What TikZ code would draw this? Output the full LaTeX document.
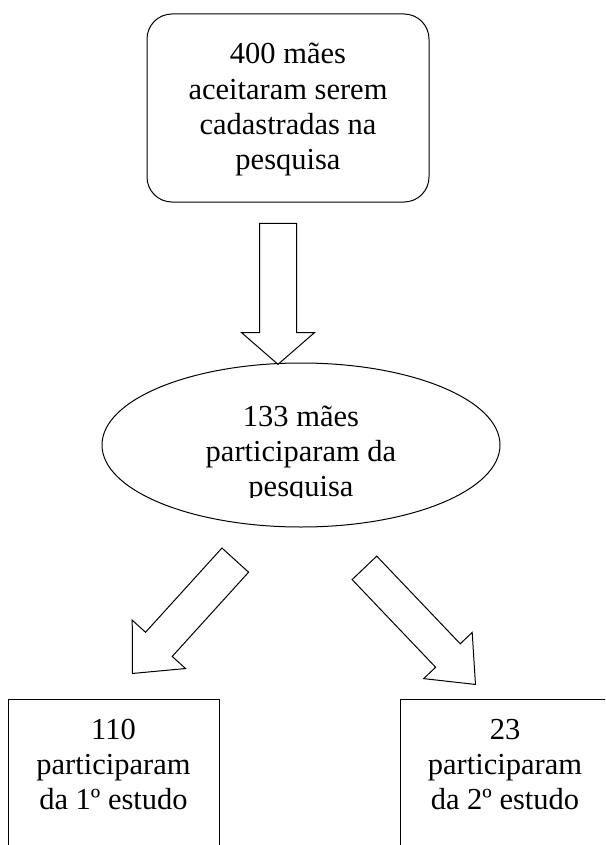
\documentclass[tikz,border=0pt]{standalone}
\usepackage{fontspec}
\setmainfont{Liberation Serif}
\usetikzlibrary{shapes.geometric,shapes.arrows,positioning}
\tikzset{
  caixa/.style = {draw=black, line width=1pt, rounded corners=25pt,
    minimum width=282pt, minimum height=188pt, inner sep=0pt},% caixa arredondada
  elipse/.style = {draw=black, line width=1pt, ellipse,
    minimum width=398pt, minimum height=164pt, inner sep=0pt},
  estudo/.style = {draw=black, line width=1pt, rectangle,
    minimum width=211pt, minimum height=200pt, inner sep=0pt},% caixa de baixo, aberta
  texto/.style = {align=center, inner sep=0pt,
    font=\fontsize{30.5}{35}\selectfont},
  seta/.style = {single arrow, draw=black, line width=1pt, fill=white,
    inner sep=0pt, inner ysep=18pt, single arrow head extend=18pt,
    single arrow tip angle=98}% seta grossa
}

\begin{document}
\begin{tikzpicture}[x=1pt, y=-1pt]
	\useasboundingbox (0,0) rectangle (605,845);
	\clip (0,0) rectangle (605,845);
	\node [caixa] (maes400) at (288,108) {};
	\node [texto, anchor=base] (t400) at (288,169)
	      {400 mães\\aceitaram serem\\cadastradas na\\pesquisa};
	\node [elipse] (maes133) at (301,445) {};
	\begin{scope}
		\clip (102,363) rectangle (500,497);
		\node [texto, anchor=base] (t133) at (301,496)
		      {133 mães\\participaram da\\pesquisa};
	\end{scope}
	\node [seta, minimum height=141pt, rotate=-90, anchor=tip] (seta1) at (278,365) {};
	\node [seta, minimum height=153pt, rotate=-132.2, anchor=tip,
	      inner ysep=17.5pt, single arrow tip angle=85] (seta2) at (132,674) {};
	\node [seta, minimum height=161pt, rotate=-46.4, anchor=tip,
	      inner ysep=16.5pt, single arrow head extend=16.5pt,
	      single arrow tip angle=80] (seta3) at (476,685) {};
	\node [estudo, anchor=north] (est1) at (113.5,699) {};
	\node [texto, anchor=base] (t110) at (113.5,809)
	      {110\\participaram\\da 1º estudo};
	\node [estudo, anchor=north] (est2) at (505.5,699) {};
	\node [texto, anchor=base] (t23) at (505,809)
	      {23\\participaram\\da 2º estudo};
\end{tikzpicture}
\end{document}
